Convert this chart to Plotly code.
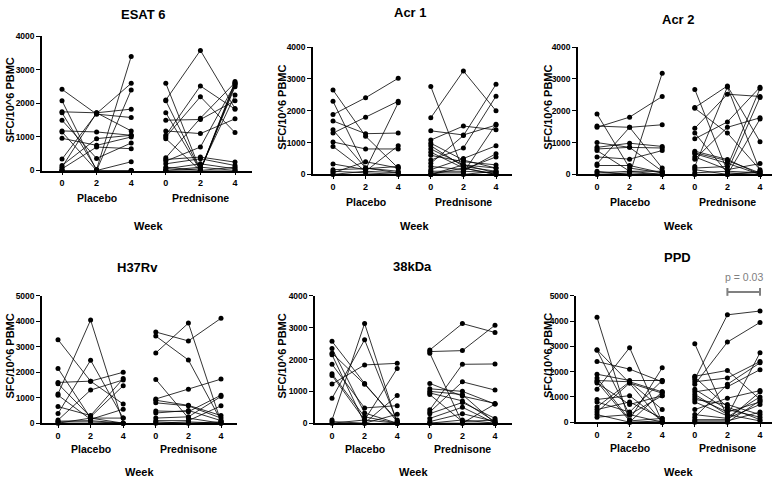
import plotly.graph_objects as go

WEEKS = [0, 2, 4]
GROUPS = ["Placebo", "Prednisone"]
PANEL_TITLES = ["ESAT 6", "Acr 1", "Acr 2", "H37Rv", "38kDa", "PPD"]
Y_LABEL = "SFC/10^6 PBMC"
X_LABEL = "Week"
Y_MAX = [4000, 4000, 4000, 5000, 4000, 5000]

# each row: one subject, values at week 0, 2, 4
ESAT6_PLACEBO = [
    [2420, 1680, 1580], [2080, 0, 0], [1750, 1720, 1830], [1720, 30, 3400],
    [1500, 360, 820], [1180, 1150, 1050], [1150, 0, 0], [960, 750, 1000],
    [340, 1700, 2600], [150, 950, 1050], [100, 1720, 1180], [50, 700, 650],
    [0, 0, 2400], [0, 0, 260], [0, 0, 0],
]
ESAT6_PRED = [
    [2600, 0, 2600], [2100, 3580, 1850], [2080, 0, 2650], [1720, 0, 2550],
    [1500, 1520, 2080], [1180, 1100, 1540], [1050, 2520, 1830], [1000, 2200, 1130],
    [950, 0, 2500], [380, 1560, 2620], [330, 400, 250], [280, 700, 2580],
    [200, 350, 150], [100, 0, 100], [50, 200, 50], [0, 0, 0], [0, 100, 0],
    [0, 50, 2250],
]
ACR1_PLACEBO = [
    [2650, 1200, 200], [2300, 200, 100], [1880, 2410, 3020], [1680, 1280, 1300],
    [1400, 200, 50], [1300, 1800, 2300], [1020, 800, 800], [880, 100, 900],
    [330, 150, 2250], [150, 180, 250], [100, 50, 0], [50, 400, 200], [0, 100, 50],
]
ACR1_PRED = [
    [2760, 100, 50], [1780, 3250, 2000], [1370, 1240, 1550], [1080, 1520, 1400],
    [980, 450, 200], [900, 250, 100], [800, 300, 50], [700, 200, 0],
    [600, 400, 300], [450, 830, 2460], [350, 1220, 2830], [250, 150, 550],
    [150, 500, 900], [100, 100, 650], [50, 50, 1580], [0, 0, 100], [0, 200, 0],
    [0, 300, 200],
]
ACR2_PLACEBO = [
    [1900, 200, 50], [1520, 1480, 1560], [1480, 1800, 2450], [1000, 850, 100],
    [850, 980, 880], [800, 850, 830], [750, 100, 0], [550, 480, 750],
    [330, 1480, 200], [280, 280, 50], [100, 0, 3180], [50, 100, 100], [0, 50, 0],
]
ACR2_PRED = [
    [2670, 100, 50], [2100, 2780, 1030], [2080, 1300, 150], [1450, 2520, 2450],
    [1300, 50, 0], [1120, 1650, 2740], [730, 470, 0], [680, 430, 50],
    [650, 350, 0], [550, 150, 340], [480, 1480, 1780], [250, 2750, 100],
    [200, 250, 2700], [150, 0, 1740], [50, 100, 2420], [0, 0, 100],
]
H37RV_PLACEBO = [
    [3280, 1650, 750], [2150, 200, 200], [1600, 1650, 2000], [1550, 250, 1470],
    [1150, 4050, 0], [1100, 150, 550], [650, 300, 1750], [380, 2470, 200],
    [120, 1300, 1700], [80, 100, 0], [50, 50, 0], [0, 200, 0],
]
H37RV_PRED = [
    [3580, 3230, 4120], [3420, 2480, 100], [2760, 3930, 50], [1720, 200, 0],
    [950, 1330, 1730], [900, 700, 300], [800, 680, 200], [480, 450, 1100],
    [400, 500, 100], [200, 250, 1050], [100, 100, 680], [50, 0, 50], [0, 50, 0],
]
KDA38_PLACEBO = [
    [2570, 1250, 50], [2350, 320, 0], [2200, 1220, 100], [2150, 0, 280],
    [1850, 480, 550], [1550, 200, 0], [1500, 100, 1720], [1230, 1830, 1880],
    [780, 2620, 50], [100, 3130, 0], [50, 0, 870], [0, 100, 0],
]
KDA38_PRED = [
    [2300, 3130, 2850], [2250, 2280, 3080], [2200, 0, 0], [1250, 850, 620],
    [1080, 1000, 600], [1000, 900, 0], [950, 700, 50], [900, 50, 100],
    [420, 1850, 1860], [350, 1300, 1040], [300, 650, 150], [150, 500, 0],
    [50, 300, 50], [0, 100, 0], [0, 0, 600],
]
PPD_PLACEBO = [
    [4150, 0, 1200], [2870, 1550, 1150], [2850, 300, 0], [2400, 2100, 1600],
    [1900, 1650, 1650], [1750, 100, 2150], [1650, 1600, 500], [1600, 50, 150],
    [1550, 700, 1050], [1300, 2950, 0], [900, 1050, 50], [800, 400, 1650],
    [600, 1600, 1200], [500, 800, 150], [400, 1550, 0], [300, 0, 50],
    [200, 300, 1050],
]
PPD_PRED = [
    [3100, 200, 1000], [1820, 2050, 900], [1780, 600, 100], [1700, 4250, 4400],
    [1600, 1750, 2400], [1500, 3170, 3950], [1300, 500, 200], [1200, 1400, 2080],
    [1100, 300, 50], [1000, 400, 800], [900, 700, 300], [800, 250, 2750],
    [500, 950, 1250], [300, 150, 700], [200, 1500, 2350], [100, 100, 1200],
    [50, 50, 400], [0, 0, 850],
]
PANEL_DATA = [
    (ESAT6_PLACEBO, ESAT6_PRED), (ACR1_PLACEBO, ACR1_PRED), (ACR2_PLACEBO, ACR2_PRED),
    (H37RV_PLACEBO, H37RV_PRED), (KDA38_PLACEBO, KDA38_PRED), (PPD_PLACEBO, PPD_PRED),
]
P_TEXT = "p = 0.03"

W, H = 778, 484
# layout in pixels: (axis left, axis right, y top, y bottom, unit0 px, unit spacing px)
LAYOUT_PX = [
    (42, 252, 32, 169, 62, 34.6),
    (313, 512, 43, 173, 333, 32.6),
    (578, 772, 43, 173, 597, 32.6),
    (42, 237, 297, 427, 58, 32.6),
    (315, 512, 297, 427, 332, 32.6),
    (576, 772, 297, 426, 597, 32.6),
]
TITLE_PX = [(143, 10), (411, 8), (678, 15), (137, 268), (412, 267), (677, 258)]
YLAB_X = [10, 282, 548, 10, 282, 548]

FONT = "Liberation Sans, Arial, sans-serif"

def px_x(p):
    return p / W

def px_y(p):
    return 1 - p / H

fig = go.Figure()
annotations = []
shapes = []

for i, (plc, prd) in enumerate(PANEL_DATA):
    n = i + 1
    xa = "x" if n == 1 else f"x{n}"
    ya = "y" if n == 1 else f"y{n}"
    for gi, grp in enumerate((plc, prd)):
        xs, ys = [], []
        for subj in grp:
            for wi, v in enumerate(subj):
                xs.append(gi * len(WEEKS) + wi)
                ys.append(v)
            xs.append(None)
            ys.append(None)
        fig.add_trace(go.Scatter(
            x=xs, y=ys, xaxis=xa, yaxis=ya, mode="lines+markers",
            line=dict(color="black", width=0.8),
            marker=dict(color="black", size=5),
            cliponaxis=False, showlegend=False, hoverinfo="skip",
        ))
    l, r, t, b, u0, sp = LAYOUT_PX[i]
    xr = [(l - u0) / sp, (r - u0) / sp]
    key = "" if n == 1 else str(n)
    fig.layout["xaxis" + key] = dict(
        domain=[px_x(l), px_x(r)], range=xr, anchor=ya,
        tickvals=list(range(len(WEEKS) * 2)), ticktext=[str(w) for w in WEEKS] * 2,
        showline=True, linecolor="black", linewidth=1.5,
        ticks="outside", ticklen=3, tickwidth=1.2, tickcolor="black",
        showgrid=False, zeroline=False,
        tickfont=dict(family=FONT, size=9, color="black", weight="bold"),
    )
    fig.layout["yaxis" + key] = dict(
        domain=[px_y(b), px_y(t)], range=[0, Y_MAX[i]], anchor=xa,
        dtick=1000, showline=True, linecolor="black", linewidth=1.5,
        ticks="outside", ticklen=4, tickwidth=1.2, tickcolor="black",
        showgrid=False, zeroline=False,
        tickfont=dict(family=FONT, size=8.5, color="black", weight="bold"),
    )
    # group labels
    lab_y = b + 28 if i < 3 else b + 26
    for gi, g in enumerate(GROUPS):
        annotations.append(dict(
            x=gi * len(WEEKS) + 1, xref=xa, y=px_y(lab_y), yref="paper",
            text=g, showarrow=False, xanchor="center", yanchor="middle",
            font=dict(family=FONT, size=10.5, color="black", weight="bold"),
        ))
    # week label
    week_y = 226 if i < 3 else 477
    annotations.append(dict(
        x=2.5, xref=xa, y=px_y(week_y), yref="paper", text=X_LABEL,
        showarrow=False, xanchor="center", yanchor="middle",
        font=dict(family=FONT, size=11, color="black", weight="bold"),
    ))
    # title
    tx, ty = TITLE_PX[i]
    annotations.append(dict(
        x=px_x(tx), xref="paper", y=px_y(ty), yref="paper", text=PANEL_TITLES[i],
        showarrow=False, xanchor="center", yanchor="middle",
        font=dict(family=FONT, size=13, color="black", weight="bold"),
    ))
    # y label
    annotations.append(dict(
        x=px_x(YLAB_X[i]), xref="paper", y=px_y((t + b) / 2 - 3), yref="paper",
        text=Y_LABEL, textangle=-90, showarrow=False,
        xanchor="center", yanchor="middle",
        font=dict(family=FONT, size=11, color="black", weight="bold"),
    ))

# significance bracket on PPD prednisone week 2 vs 4
annotations.append(dict(
    x=4.5, xref="x6", y=px_y(278), yref="paper", text=P_TEXT, showarrow=False,
    xanchor="center", yanchor="middle", font=dict(family=FONT, size=10.5, color="#808080"),
))
shapes.append(dict(type="line", xref="x6", yref="paper", x0=4, x1=5,
                   y0=px_y(293), y1=px_y(293), line=dict(color="#808080", width=2)))
for xv in (4, 5):
    shapes.append(dict(type="line", xref="x6", yref="paper", x0=xv, x1=xv,
                       y0=px_y(289), y1=px_y(297), line=dict(color="#808080", width=2)))

fig.update_layout(
    width=W, height=H, margin=dict(l=0, r=0, t=0, b=0),
    paper_bgcolor="white", plot_bgcolor="white",
    annotations=annotations, shapes=shapes, showlegend=False,
)
fig.write_html("out.html", config={"displayModeBar": False},
               post_script="document.body.style.margin='0';")
